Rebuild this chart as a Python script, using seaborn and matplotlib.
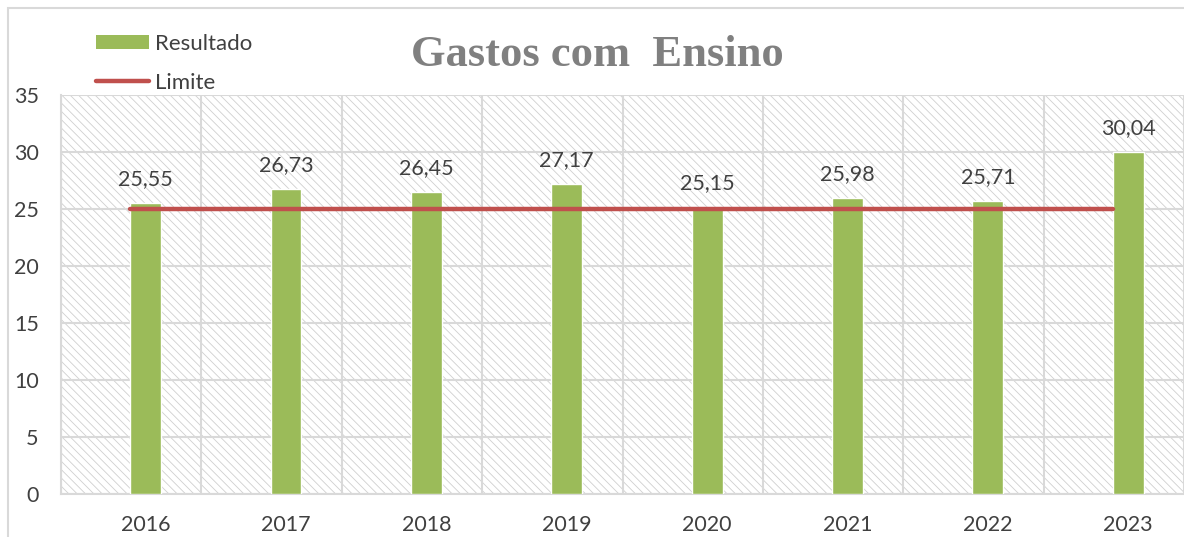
import numpy as np
import pandas as pd
import seaborn as sns
import matplotlib.pyplot as plt
from matplotlib.patches import Rectangle, Patch
from matplotlib.lines import Line2D

# Data
anos = ["2016", "2017", "2018", "2019", "2020", "2021", "2022", "2023"]
resultado = [25.55, 26.73, 26.45, 27.17, 25.15, 25.98, 25.71, 30.04]
limite = [25, 25, 25, 25, 25, 25, 25, 25]
rotulos = ["25,55", "26,73", "26,45", "27,17", "25,15", "25,98", "25,71", "30,04"]

df = pd.DataFrame({"ano": anos, "resultado": resultado, "limite": limite})

sns.set_theme(style="white")
plt.rcParams["font.family"] = ["Lato", "DejaVu Sans"]
plt.rcParams["hatch.linewidth"] = 0.6

fig = plt.figure(figsize=(11.84, 5.37), dpi=100)
ax = fig.add_axes([61 / 1184, 1 - 494 / 537, 1 - 61 / 1184, (494 - 95) / 537])

# outer chart frame
fig.patches.append(Rectangle((8 / 1184, -0.1), 1.2, 1 - 8 / 537 + 0.1, transform=fig.transFigure,
                             fill=False, edgecolor="#d9d9d9", linewidth=1.5, zorder=0))

green = "#9bbb59"
red = "#c0504d"

# hatched plot area
ax.set_facecolor("white")
ax.add_patch(Rectangle((0, 0), 1, 1, transform=ax.transAxes, facecolor="white",
                       edgecolor="#d0d0d0", hatch="\\\\\\\\", linewidth=0, zorder=0))

sns.barplot(data=df, x="ano", y="resultado", color=green, width=0.22, saturation=1,
            ax=ax, zorder=3)

pos = np.arange(len(anos))
ax.plot(pos - 0.11, df["limite"], color=red, linewidth=3.2, zorder=4, solid_capstyle="round")

for x, v, t in zip(pos, resultado, rotulos):
    ax.annotate(t, (x, v), xytext=(0, 10), textcoords="offset points", ha="center",
                va="bottom", fontsize=15.5, color="#404040")

ax.set_xlim(-0.603, 7.367)
ax.set_ylim(0, 35)
ax.set_yticks(range(0, 36, 5))
ax.set_xticks(pos)
ax.set_xticklabels(anos)
ax.set_xticks(np.arange(-0.603, 7.4, 1.0), minor=True)
ax.tick_params(axis="x", which="major", length=0, pad=15, labelsize=15.5, labelcolor="#404040")
ax.tick_params(axis="x", which="minor", length=6, color="#d9d9d9", width=1.2)
ax.tick_params(axis="y", length=0, pad=16, labelsize=15.5, labelcolor="#404040")
ax.set_xlabel("")
ax.set_ylabel("")

ax.grid(True, axis="y", color="#d9d9d9", linewidth=1.5, zorder=1)
ax.grid(True, axis="x", which="minor", color="#d9d9d9", linewidth=1.5, zorder=1)
ax.set_axisbelow(True)
for s in ["top", "right"]:
    ax.spines[s].set_visible(False)
for s in ["left", "bottom"]:
    ax.spines[s].set_color("#d9d9d9")
    ax.spines[s].set_linewidth(1.5)

fig.text(597 / 1184, 1 - 55 / 537, "Gastos com  Ensino", ha="center", va="center",
         fontsize=32, fontweight="bold", color="#808080", family=["Liberation Serif"])

handles = [Patch(facecolor=green, edgecolor="none"),
           Line2D([], [], color=red, linewidth=3.2)]
leg = fig.legend(handles, ["Resultado", "Limite"], loc="upper left",
                 bbox_to_anchor=(96 / 1184, 1 - 34 / 537), frameon=False, fontsize=16,
                 borderpad=0, borderaxespad=0, handlelength=2.4, handleheight=0.6,
                 handletextpad=0.25, labelspacing=0.85)
for t in leg.get_texts():
    t.set_color("#404040")

fig.savefig("out.png", dpi=100)
